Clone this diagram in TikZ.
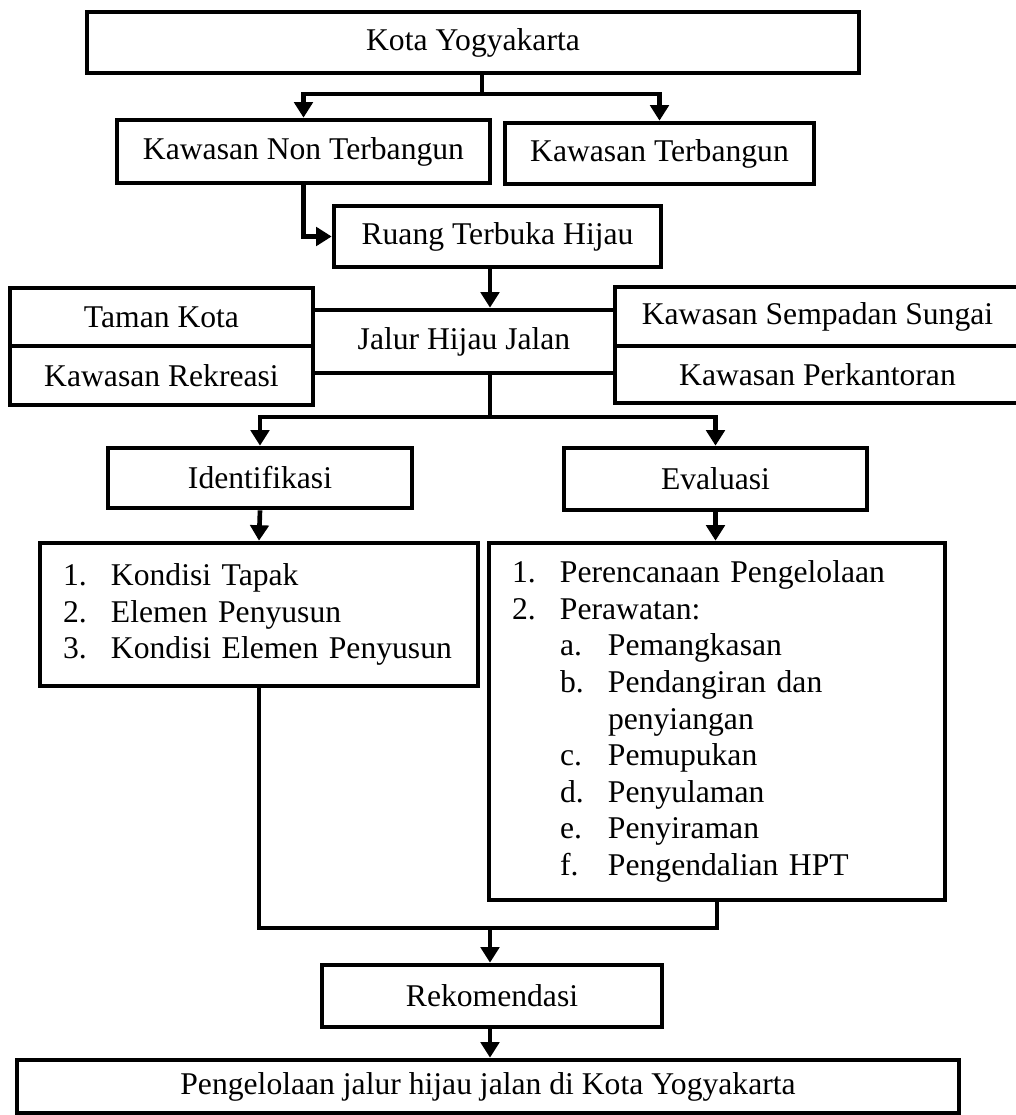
\documentclass[tikz,border=0pt]{standalone}
\usepackage{fontspec}
\setmainfont{Liberation Serif}
\usetikzlibrary{arrows.meta}

\newcommand{\numlbl}[1]{\makebox[1.2cm][l]{#1}}

\begin{document}
\begin{tikzpicture}[
    > = {Triangle[length=11pt,width=13pt]}, % arrow head style
    line width = 3.3pt, % heavy lines for boxes and arrows
    font = \fontsize{22.5}{26}\selectfont % text size
  ]

  \tikzstyle{box}=[rectangle, draw=black, inner sep=0pt]
  \tikzstyle{list}=[box, align=left, inner xsep=0.575cm]

  \useasboundingbox (0,0) rectangle (25.4,-27.875);

  \node[box, minimum width=19.3cm, minimum height=1.525cm] (kota) at (11.825,-1.0625) {Kota Yogyakarta};
  \node[box, minimum width=9.325cm, minimum height=1.575cm] (knt) at (7.5875,-3.7875) {Kawasan Non Terbangun};
  \node[box, minimum width=7.725cm, minimum height=1.525cm] (kt) at (16.4875,-3.8375) {Kawasan Terbangun};
  \node[box, minimum width=8.175cm, minimum height=1.525cm] (rth) at (12.4375,-5.9125) {Ruang Terbuka Hijau};

  \node[box, minimum width=7.575cm, minimum height=1.45cm] (taman) at (4.0375,-7.925) {Taman Kota};
  \node[box, minimum width=7.575cm, minimum height=1.475cm] (rekreasi) at (4.0375,-9.3875) {Kawasan Rekreasi};
  \node[box, minimum width=7.55cm, minimum height=1.575cm] (jalur) at (11.6,-8.5375) {Jalur Hijau Jalan};
  \node[box, minimum width=10.125cm, minimum height=1.475cm] (sempadan) at (20.4375,-7.9125) {Kawasan Sempadan Sungai};
  \node[box, minimum width=10.125cm, minimum height=1.425cm] (kantor) at (20.4375,-9.3625) {Kawasan Perkantoran};

  \node[box, minimum width=7.6cm, minimum height=1.5cm] (ident) at (6.5,-11.95) {Identifikasi};
  \node[box, minimum width=7.575cm, minimum height=1.55cm] (eval) at (17.8875,-11.975) {Evaluasi};

  \node[list, text width=9.8cm, minimum height=3.575cm] (idlist) at (6.475,-15.3625) {%
    \numlbl{1.}Kondisi Tapak\\
    \numlbl{2.}Elemen Penyusun\\
    \numlbl{3.}Kondisi Elemen Penyusun};
  \node[list, text width=10.25cm, minimum height=8.925cm] (evlist) at (17.925,-18.0375) {%
    \numlbl{1.}Perencanaan Pengelolaan\\
    \numlbl{2.}Perawatan:\\
    \hspace*{1.2cm}\numlbl{a.}Pemangkasan\\
    \hspace*{1.2cm}\numlbl{b.}Pendangiran dan\\
    \hspace*{2.4cm}penyiangan\\
    \hspace*{1.2cm}\numlbl{c.}Pemupukan\\
    \hspace*{1.2cm}\numlbl{d.}Penyulaman\\
    \hspace*{1.2cm}\numlbl{e.}Penyiraman\\
    \hspace*{1.2cm}\numlbl{f.}Pengendalian HPT};

  \node[box, minimum width=8.5cm, minimum height=1.55cm] (rek) at (12.3,-24.9) {Rekomendasi};
  \node[box, minimum width=23.55cm, minimum height=1.325cm] (hasil) at (12.2,-27.1625) {Pengelolaan jalur hijau jalan di Kota Yogyakarta};

  \coordinate (spine) at (12.25,0);
  \coordinate (split1) at (12.05,-2.35);
  \coordinate (split2) at (12.25,-10.425);
  \coordinate (merge) at (12.25,-23.2);

  \draw (kota.south -| split1) -- (split1);
  \draw[->] (split1) -| (knt.north);
  \draw[->] (split1) -| (kt.north);
  \draw[->] (knt.south) |- (rth.west);
  \draw[->] (rth.south -| spine) -- (jalur.north -| spine);
  \draw (jalur.south -| spine) -- (split2);
  \draw[->] (split2) -| (ident.north);
  \draw[->] (split2) -| (eval.north);
  \draw[->] (ident.south) -- (idlist.north);
  \draw[->] (eval.south) -- (eval.south |- evlist.north);
  \draw (idlist.south) |- (merge) -| (evlist.south);
  \draw[->] (merge) -- (rek.north -| merge);
  \draw[->] (rek.south -| spine) -- (hasil.north -| spine);

\end{tikzpicture}
\end{document}
